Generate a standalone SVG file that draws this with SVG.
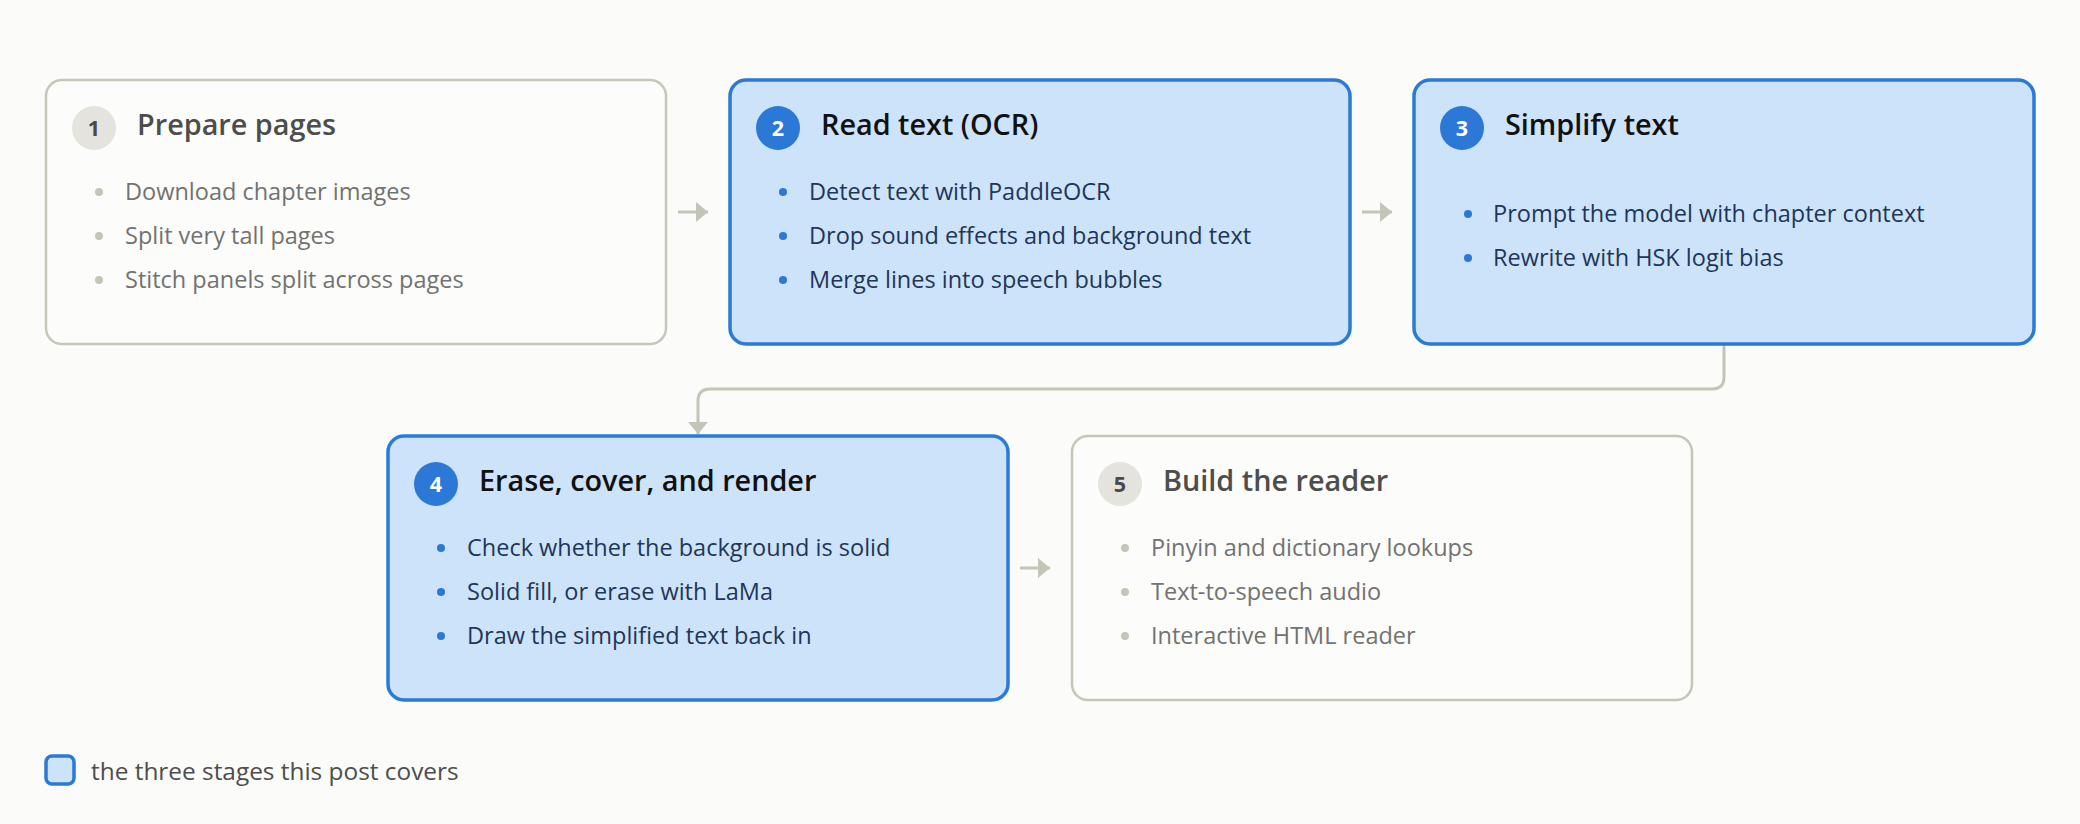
<svg xmlns="http://www.w3.org/2000/svg" width="2080" height="824" viewBox="0 0 2080 824">
<style>
text{font-family:"Open Sans","Noto Sans","Liberation Sans",sans-serif}
.box-g{fill:#fcfcfa;stroke:#c6c6bb;stroke-width:2.5}
.box-b{fill:#cde3fa;stroke:#2b7ad6;stroke-width:3.5}
.badge-g{fill:#e4e3de}
.badge-b{fill:#2b78d6}
.num{font-size:21.5px;font-weight:700;text-anchor:middle}
.num-g{fill:#4a4a48}
.num-b{fill:#ffffff}
.title{font-size:28.8px;font-weight:600}
.title-g{fill:#4d4d4b}
.title-b{fill:#111111}
.item{font-size:23.5px}
.item-g{fill:#727270}
.item-b{fill:#1f3658}
.dot-g{fill:#c4c4b8}
.dot-b{fill:#2b78d6}
.conn{fill:none;stroke:#c4c4b8;stroke-width:3}
.legend{font-size:24.4px;fill:#4e4e4c}
</style>
<defs>
<marker id="arrow" markerUnits="userSpaceOnUse" markerWidth="12" markerHeight="20" refX="12" refY="10" orient="auto">
<path d="M0,0 L12,10 L0,20 Z" fill="#c4c4b8"/>
</marker>
</defs>
<rect width="2080" height="824" fill="#fbfbf9"/>

<g id="connectors">
<line class="conn" x1="678" y1="212" x2="708" y2="212" marker-end="url(#arrow)"/>
<line class="conn" x1="1362" y1="212" x2="1392" y2="212" marker-end="url(#arrow)"/>
<path class="conn" d="M1724,345 V377 Q1724,389 1712,389 H710 Q698,389 698,401 V434" marker-end="url(#arrow)"/>
<line class="conn" x1="1020" y1="568" x2="1050" y2="568" marker-end="url(#arrow)"/>
</g>

<g id="node1">
<rect class="box-g" x="46" y="80" width="620" height="264" rx="16"/>
<circle class="badge-g" cx="94" cy="128" r="22"/>
<text class="num num-g" x="94" y="135.5">1</text>
<text class="title title-g" x="137" y="135">Prepare pages</text>
<circle class="dot-g" cx="99" cy="192" r="4"/>
<text class="item item-g" x="125" y="199.5">Download chapter images</text>
<circle class="dot-g" cx="99" cy="236" r="4"/>
<text class="item item-g" x="125" y="243.5">Split very tall pages</text>
<circle class="dot-g" cx="99" cy="280" r="4"/>
<text class="item item-g" x="125" y="287.5">Stitch panels split across pages</text>
</g>

<g id="node2">
<rect class="box-b" x="730" y="80" width="620" height="264" rx="16"/>
<circle class="badge-b" cx="778" cy="128" r="22"/>
<text class="num num-b" x="778" y="135.5">2</text>
<text class="title title-b" x="821" y="135">Read text (OCR)</text>
<circle class="dot-b" cx="783" cy="192" r="4"/>
<text class="item item-b" x="809" y="199.5">Detect text with PaddleOCR</text>
<circle class="dot-b" cx="783" cy="236" r="4"/>
<text class="item item-b" x="809" y="243.5">Drop sound effects and background text</text>
<circle class="dot-b" cx="783" cy="280" r="4"/>
<text class="item item-b" x="809" y="287.5">Merge lines into speech bubbles</text>
</g>

<g id="node3">
<rect class="box-b" x="1414" y="80" width="620" height="264" rx="16"/>
<circle class="badge-b" cx="1462" cy="128" r="22"/>
<text class="num num-b" x="1462" y="135.5">3</text>
<text class="title title-b" x="1505" y="135">Simplify text</text>
<circle class="dot-b" cx="1468" cy="214" r="4"/>
<text class="item item-b" x="1493" y="221.5">Prompt the model with chapter context</text>
<circle class="dot-b" cx="1468" cy="258" r="4"/>
<text class="item item-b" x="1493" y="265.5">Rewrite with HSK logit bias</text>
</g>

<g id="node4">
<rect class="box-b" x="388" y="436" width="620" height="264" rx="16"/>
<circle class="badge-b" cx="436" cy="484" r="22"/>
<text class="num num-b" x="436" y="491.5">4</text>
<text class="title title-b" x="479" y="491">Erase, cover, and render</text>
<circle class="dot-b" cx="441" cy="548" r="4"/>
<text class="item item-b" x="467" y="555.5">Check whether the background is solid</text>
<circle class="dot-b" cx="441" cy="592" r="4"/>
<text class="item item-b" x="467" y="599.5">Solid fill, or erase with LaMa</text>
<circle class="dot-b" cx="441" cy="636" r="4"/>
<text class="item item-b" x="467" y="643.5">Draw the simplified text back in</text>
</g>

<g id="node5">
<rect class="box-g" x="1072" y="436" width="620" height="264" rx="16"/>
<circle class="badge-g" cx="1120" cy="484" r="22"/>
<text class="num num-g" x="1120" y="491.5">5</text>
<text class="title title-g" x="1163" y="491">Build the reader</text>
<circle class="dot-g" cx="1125" cy="548" r="4"/>
<text class="item item-g" x="1151" y="555.5">Pinyin and dictionary lookups</text>
<circle class="dot-g" cx="1125" cy="592" r="4"/>
<text class="item item-g" x="1151" y="599.5">Text-to-speech audio</text>
<circle class="dot-g" cx="1125" cy="636" r="4"/>
<text class="item item-g" x="1151" y="643.5">Interactive HTML reader</text>
</g>

<g id="legend">
<rect x="46" y="756" width="28" height="28" rx="6" fill="#cde3fa" stroke="#2b7ad6" stroke-width="3.5"/>
<text class="legend" x="91" y="780">the three stages this post covers</text>
</g>
</svg>
